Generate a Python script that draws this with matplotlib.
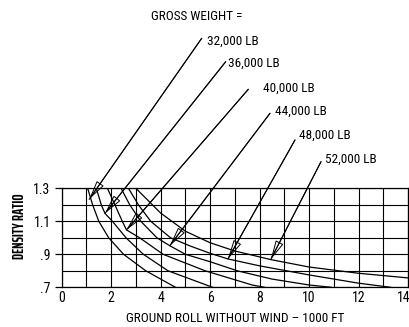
import matplotlib
matplotlib.use("Agg")
import matplotlib.pyplot as plt
from matplotlib.transforms import ScaledTranslation

plt.rcParams['font.family'] = ['Roboto Condensed', 'DejaVu Sans']

# ground roll (1000 ft) vs density ratio, one curve per gross weight
weights = ["32,000 LB", "36,000 LB", "40,000 LB", "44,000 LB", "48,000 LB", "52,000 LB"]

roll_32 = [1.05, 1.25, 1.5, 1.9, 2.5, 3.4, 4.6]
rho_32 = [1.3, 1.2, 1.1, 1.0, 0.9, 0.8, 0.7]

roll_36 = [1.4, 1.6, 1.75, 2.05, 2.6, 3.3, 4.3, 6.1]
rho_36 = [1.3, 1.2, 1.148, 1.1, 1.0, 0.9, 0.8, 0.7]

roll_40 = [1.85, 2.15, 2.45, 2.62, 3.15, 4.1, 5.8, 7.7, 8.2]
rho_40 = [1.3, 1.2, 1.1, 1.048, 1.0, 0.9, 0.8, 0.714, 0.7]

roll_44 = [2.4, 2.75, 3.2, 3.85, 4.37, 5.0, 6.0, 7.1, 8.5, 10.0, 10.9]
rho_44 = [1.3, 1.2, 1.1, 1.0, 0.952, 0.9, 0.855, 0.8, 0.75, 0.714, 0.7]

roll_48 = [2.7, 3.1, 3.6, 4.4, 5.2, 6.0, 6.72, 8.0, 10.0, 12.0, 13.3]
rho_48 = [1.3, 1.2, 1.1, 1.0, 0.95, 0.906, 0.872, 0.83, 0.775, 0.725, 0.7]

roll_52 = [3.0, 3.4, 4.0, 5.0, 6.0, 7.0, 8.45, 10.0, 12.0, 14.0]
rho_52 = [1.3, 1.24, 1.15, 1.04, 0.97, 0.92, 0.868, 0.823, 0.785, 0.757]

curves = [(roll_32, rho_32), (roll_36, rho_36), (roll_40, rho_40),
          (roll_44, rho_44), (roll_48, rho_48), (roll_52, rho_52)]

# where each weight arrow lands on its curve
tip_roll = [1.11, 1.75, 2.62, 4.37, 6.72, 8.45]
tip_rho = [1.233, 1.148, 1.048, 0.952, 0.872, 0.868]

# label anchors and leader starts, figure pixels from top-left
label_px = [(206.7, 41.7), (228, 63.3), (263, 88.3), (275, 111), (299.3, 135), (325, 159.3)]
leader_px = [(201.7, 38.3), (225.7, 61.7), (248.3, 89.3), (270, 113.3), (295, 140), (321, 161.7)]

x_ticks = [0, 2, 4, 6, 8, 10, 12, 14]
y_ticks = [0.7, 0.9, 1.1, 1.3]
y_tick_labels = [".7", ".9", "1.1", "1.3"]

W, H = 410, 327
fig = plt.figure(figsize=(W / 100, H / 100), dpi=100)
ax = fig.add_axes([61.7 / W, (H - 287.3) / H, (408 - 61.7) / W, 99 / H])

for xs, ys in curves:
    ax.plot(xs, ys, color='black', lw=0.9, zorder=3)

ax.set_xlim(0, 14)
ax.set_ylim(0.7, 1.3)
ax.set_xticks(x_ticks)
ax.set_xticklabels([str(t) for t in x_ticks])
ax.set_xticks(range(15), minor=True)
ax.set_yticks(y_ticks)
ax.set_yticklabels(y_tick_labels)
ax.set_yticks([0.8, 1.0, 1.2], minor=True)
ax.tick_params(axis='x', which='both', length=0, pad=3, labelsize=10)
ax.tick_params(axis='y', which='major', length=5, width=0.9, pad=3, labelsize=10)
ax.tick_params(axis='y', which='minor', length=0)
ax.grid(True, which='both', color='black', lw=0.8, zorder=1)
ax.set_axisbelow(True)
for s in ax.spines.values():
    s.set_linewidth(0.9)

# nudge the last x label in so it stays on the canvas
last = ax.get_xticklabels()[-1]
last.set_transform(last.get_transform() + ScaledTranslation(-4.5 / 100, 0, fig.dpi_scale_trans))

ax.set_xlabel("GROUND ROLL WITHOUT WIND \u2013 1000 FT", fontsize=9.5, labelpad=5)
ax.set_ylabel("DENSITY RATIO", fontsize=10.5, fontweight='bold',
              family=['Saira ExtraCondensed', 'Roboto Condensed'])
ax.yaxis.set_label_coords(-0.1, 0.62)

fig.text(197 / W, 1 - 16 / H, "GROSS WEIGHT =", fontsize=9.5, ha='center', va='center')

for i, name in enumerate(weights):
    lx, ly = label_px[i]
    fig.text(lx / W, 1 - ly / H, name, fontsize=9.5, ha='left', va='center')
    sx, sy = leader_px[i]
    start = (sx, H - sy)
    tip = (tip_roll[i], tip_rho[i])
    # shaft all the way to the tip, open head drawn over it
    ax.annotate('', xy=tip, xycoords='data', xytext=start, textcoords='figure pixels',
                annotation_clip=False,
                arrowprops=dict(arrowstyle='-', color='black', lw=0.8,
                                shrinkA=0, shrinkB=0), zorder=4)
    ax.annotate('', xy=tip, xycoords='data', xytext=start, textcoords='figure pixels',
                annotation_clip=False,
                arrowprops=dict(arrowstyle='-|>,head_length=1.0,head_width=0.22',
                                mutation_scale=12, fc='none', ec='black', lw=0.7,
                                shrinkA=0, shrinkB=0), zorder=5)

fig.savefig("out.png", dpi=100)
